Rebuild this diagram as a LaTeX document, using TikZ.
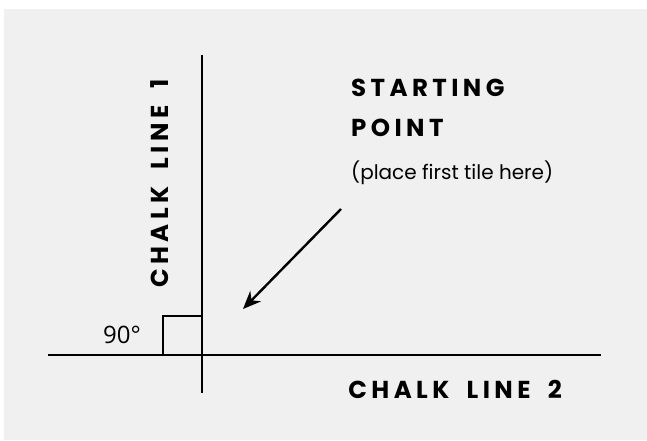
\documentclass[tikz,border=0pt]{standalone}
\usepackage{fontspec}
\setmainfont{Poppins}
\newfontfamily\titlefont[LetterSpace=18,WordSpace=1.8]{Poppins}
\newfontfamily\numfont{Open Sans}
\usetikzlibrary{arrows.meta}
\definecolor{bgray}{HTML}{F0F0F0}
\begin{document}
\begin{tikzpicture}[x=1pt,y=-1pt,
  chalk/.style={line width=2.6pt,black},
  title/.style={inner sep=0pt,font=\titlefont\bfseries\fontsize{24.5}{28}\selectfont},
  body/.style={inner sep=0pt,font=\fontsize{20}{24}\selectfont}]
\useasboundingbox (0,0) rectangle (647,440);
\fill[bgray] (4,9) rectangle (647,440);
% lines
\coordinate (h1) at (48,355);
\coordinate (h2) at (601,355);
\coordinate (v1) at (202,55);
\coordinate (v2) at (202,393);
\draw[chalk] (h1) -- (h2);
\draw[chalk] (v1) -- (v2);
\draw[chalk] (163,355) -- (163,316) -- (202,316);
% texts
\node[title,anchor=base west] (st) at (351,96) {STARTING};
\node[title,anchor=base west] (pt) at (351,136) {POINT};
\node[body,anchor=base west] (pl) at (351,179) {(place first tile here)};
\node[title,anchor=base east] (c2) at (562,398) {CHALK LINE 2};
\node[title,anchor=base west,rotate=90] (c1) at (168,288) {CHALK LINE 1};
\node[inner sep=0pt,anchor=base west,font=\numfont\fontsize{24}{28}\selectfont] (deg) at (103,343) {90°};
% arrow
\coordinate (a1) at (341,209);
\coordinate (a2) at (243,309);
\draw[line width=2.4pt,-{Stealth[length=18pt,width=15pt]}] (a1) -- (a2);
\end{tikzpicture}
\end{document}
